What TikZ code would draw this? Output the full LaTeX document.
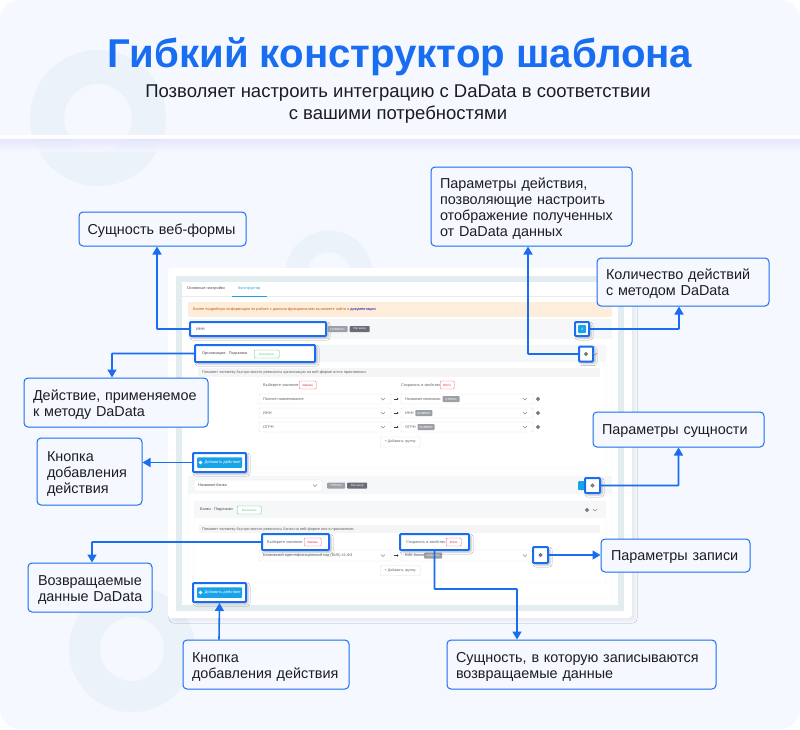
\documentclass[tikz,border=0pt]{standalone}
\usepackage{fontspec}
\setmainfont{Liberation Sans}
\usetikzlibrary{arrows.meta,shadows.blur,calc,positioning}
\definecolor{bgc}{HTML}{F5F8FE}
\definecolor{ringc}{HTML}{EBF2FA}
\definecolor{blu}{HTML}{186DF0}
\definecolor{frm}{HTML}{E3ECEE}
\definecolor{rowc}{HTML}{F6F7F9}
\definecolor{ink}{HTML}{1B1D22}
\definecolor{txg}{HTML}{5C626B}
\definecolor{btn}{HTML}{18A3E8}
\definecolor{bdg}{HTML}{9C9FA6}
\definecolor{bdd}{HTML}{686C75}
\definecolor{redb}{HTML}{F0637A}
\definecolor{grn}{HTML}{4CCB7F}
\tikzset{
 x=1pt,y=-1pt,
 callout/.style={draw=blu,line width=1pt,fill=bgc,rounded corners=4pt,inner sep=0pt,align=left,font=\fontsize{14.4}{16}\selectfont,text=ink,anchor=center,execute at end node={\par\vspace{-4pt}}},
 hl/.style={draw=blu,line width=2pt,fill=white,rounded corners=1pt,inner sep=0pt,anchor=center,blur shadow={shadow blur steps=6,shadow xshift=2pt,shadow yshift=-2pt,shadow opacity=25}},
 conn/.style={draw=blu,line width=1.6pt,-{Triangle[length=8pt,width=9pt]},rounded corners=0.5pt},
 tiny/.style={font=\fontsize{3.85}{4.5}\selectfont,text=txg,inner sep=0pt,anchor=west},
 selbox/.style={draw=black!10,line width=.4pt,fill=white,rounded corners=1pt},
 rowbox/.style={fill=rowc},
 panel/.style={draw=black!6,line width=.4pt,fill=white,rounded corners=1pt},
 badge/.style={fill=bdg,rounded corners=.8pt,inner sep=0pt,minimum height=6pt,font=\fontsize{3}{4}\selectfont,text=white,anchor=west},
 outl/.style={draw=redb,line width=.4pt,fill=white,rounded corners=1pt,inner sep=0pt,minimum height=8pt,font=\fontsize{3}{4}\selectfont,text=redb,anchor=west},
 addbtn/.style={fill=btn,rounded corners=.8pt,inner sep=0pt,anchor=west,font=\fontsize{4}{4}\selectfont,text=white,minimum width=45pt,minimum height=10.5pt},
 addico/.style={circle,fill=white,inner sep=0pt,minimum size=3.6pt},
 groupbtn/.style={draw=black!12,line width=.4pt,fill=white,rounded corners=1pt,inner sep=0pt,anchor=west,font=\fontsize{3.6}{4}\selectfont,text=txg,minimum width=40pt,minimum height=10pt},
 gear/.style={circle,draw=bdd,line width=1.1pt,fill=white,inner sep=0pt,minimum size=2.6pt},
}
\newcommand{\chev}[2]{\draw[black!45,line width=.4pt] (#1-2,#2-1) -- (#1,#2+1) -- (#1+2,#2-1);}
\newcommand{\rarr}[2]{\draw[black!75,line width=.6pt,-{Triangle[length=1.5pt,width=2.4pt]}] (#1-2.5,#2) -- (#1+2.5,#2);}
\begin{document}
\begin{tikzpicture}
\useasboundingbox (0,0) rectangle (800,729);
\fill[white] (0,0) rectangle (800,729);
\fill[bgc,rounded corners=20pt] (0,0) rectangle (800,729);
% decorative rings
\fill[ringc,even odd rule] (98,118) circle[radius=68] (98,118) circle[radius=34];
\fill[ringc,even odd rule] (329,274) circle[radius=43.5] (329,274) circle[radius=22];
\fill[ringc,even odd rule] (132,649) circle[radius=63] (132,649) circle[radius=32];
% divider
\shade[top color=blue!12!white,bottom color=bgc,opacity=.7] (0,139) rectangle (800,151);
\fill[white] (0,135) rectangle (800,139);
% title
\node[font=\fontsize{40.2}{46}\bfseries\selectfont,text=blu,inner sep=0pt] (title) at (400,57) {Гибкий конструктор шаблона};
\node[font=\fontsize{18.5}{22}\selectfont,text=ink,align=center,inner sep=0pt] (sub) at (398,104.5) {Позволяет настроить интеграцию с DaData в соответствии\\с вашими потребностями};
% UI sheet
\fill[white,rounded corners=3pt,blur shadow={shadow blur steps=8,shadow xshift=3pt,shadow yshift=-3pt,shadow opacity=6}] (168,268) rectangle (632,618);
\fill[frm] (176,276) rectangle (624,611);
\fill[white] (182,282) rectangle (618,605);
\node[tiny,text=ink!80] (tab1) at (187,288.5) {Основные настройки};
\node[tiny,text=btn] (tab2) at (238,288.5) {Конструктор};
\draw[black!8,line width=.5pt] (182,296) -- (618,296);
\draw[btn,line width=.7pt] (232,296) -- (267,296);
\fill[orange!14] (188,302) rectangle (612,317);
\node[tiny,text=orange!75!black] (info) at (193,309) {Более подробную информацию по работе с данным функционалом вы можете найти в \textcolor{blue!60!black}{документации}};
% entity 1
\draw[panel] (188,319) rectangle (612,473);
\fill[rowbox] (188.3,319.3) rectangle (611.7,339);
\draw[panel] (192,345) rectangle (606,468);
\fill[rowbox] (192.3,345.3) rectangle (605.7,362);
\fill[black!4] (198,368) rectangle (600,377);
\node[tiny] (d1) at (202,372.5) {Поможет человеку быстро ввести реквизиты организации на веб-форме или в приложении.};
\node[tiny] (s1) at (263,385) {Выберите значение};
\node[outl,minimum width=17pt,font=\fontsize{3}{4}\bfseries\selectfont] (b1) at (299,385) {DaData};
\node[tiny] (s2) at (401,385) {Сохранить в свойство};
\node[outl,minimum width=14pt,font=\fontsize{3}{4}\bfseries\selectfont] (b2) at (440,385) {Bitrix};
\foreach \yy/\la/\lb/\lc in {399/Полное наименование/Название компании/STRING,413/ИНН/ИНН/NUMBER,427/ОГРН/ОГРН/NUMBER}{
 \draw[selbox] (259,\yy-5) rectangle (391,\yy+5);
 \node[tiny] at (263,\yy) {\la};
 \chev{383}{\yy}
 \rarr{396}{\yy}
 \draw[selbox] (401,\yy-5) rectangle (533,\yy+5);
 \node[tiny] (r\yy) at (405,\yy) {\lb};
 \node[badge,minimum width=17pt,anchor=west] at ([xshift=1.5pt]r\yy.east) {\lc};
 \chev{525}{\yy}
 \node[gear] at (538,\yy) {};
}
\node[groupbtn] (g1) at (380,442) {+ Добавить группу};
% entity 2
\draw[panel] (188,476) rectangle (612,598);
\fill[rowbox] (188.3,476.3) rectangle (611.7,494);
\draw[selbox] (194,480) rectangle (322,491);
\node[tiny,text=ink!80] (n2) at (198,485.5) {Название банка};
\chev{315}{485.5}
\node[badge,minimum width=18pt] (b3) at (327,485.5) {STRING};
\node[badge,minimum width=20pt,fill=bdd] (b4) at (347,485.5) {Hip ewup};
\fill[btn,rounded corners=1pt] (578,481) rectangle (586,490);
\draw[panel] (194,501) rectangle (606,583);
\fill[rowbox] (194.3,501.3) rectangle (605.7,518);
\node[tiny,text=ink!80] (bk) at (200,510) {Банки · Подсказки};
\node[outl,draw=grn,text=grn,minimum width=24pt] (fr2) at (237,510) {Бесплатно};
\node[gear] (gg2) at (587,510) {};
\chev{595}{510}
\fill[black!4] (199,525) rectangle (600,533);
\node[tiny] (d2) at (202,529) {Поможет человеку быстро ввести реквизиты банка на веб-форме или в приложении.};
\draw[selbox] (259,550) rectangle (391,561);
\node[tiny] (bic) at (263,555.5) {Банковский идентификационный код (БИК) 41-ФЗ};
\chev{383}{555.5}
\rarr{396}{555.5}
\draw[selbox] (401,550) rectangle (533,561);
\node[tiny] (bb) at (405,555.5) {БИК банка};
\node[badge,minimum width=18pt] at (424,555.5) {NUMBER};
\chev{525}{555.5}
\node[groupbtn] (g2) at (380,570.5) {+ Добавить группу};
\chev{593}{329}
% highlighted elements
\node[hl,minimum width=136pt,minimum height=14pt] (hInn) at (258,329) {};
\node[tiny,text=ink!80] (tInn) at (196,329) {ИНН};
\node[badge,minimum width=20pt] (b5) at (327.5,329) {NUMERIC};
\node[badge,minimum width=20pt,fill=bdd] (b6) at (349.5,329) {Hip ewup};
\node[hl,minimum width=120pt,minimum height=17pt] (hOrg) at (255,353.5) {};
\node[tiny,text=ink!80] (tOrg) at (202,354) {Организация · Подсказки};
\node[outl,draw=grn,text=grn,minimum width=25pt] (fr1) at (254,354) {Бесплатно};
\node[hl,minimum width=14pt,minimum height=14pt] (hNum) at (582,329) {};
\node[fill=btn,rounded corners=.8pt,minimum size=8pt,inner sep=0pt,font=\fontsize{3.5}{4}\selectfont,text=white] (num) at (582,329) {4};
\node[hl,minimum width=14pt,minimum height=15pt] (hGear) at (586,354) {};
\node[gear] (g3) at (586,354) {};
\chev{595}{354}
\node[hl,minimum width=53pt,minimum height=19pt] (hAdd1) at (219.5,462.5) {};
\node[addbtn] (a1) at (197,462.5) {\hspace{6pt}Добавить действие};
\node[addico] (i1) at (200.5,462.5) {};
\node[hl,minimum width=15pt,minimum height=15pt] (hGearE) at (592.5,485.5) {};
\node[gear] (g4) at (592.5,485.5) {};
\node[hl,minimum width=67pt,minimum height=16pt] (hVal) at (295.5,542) {};
\node[tiny] (tVal) at (267,542) {Выберите значение};
\node[outl,minimum width=17pt,font=\fontsize{3}{4}\bfseries\selectfont] (b7) at (304,542) {DaData};
\node[hl,minimum width=69pt,minimum height=16pt] (hSave) at (434.5,542) {};
\node[tiny] (tSave) at (406,542) {Сохранить в свойство};
\node[outl,minimum width=15pt,font=\fontsize{3}{4}\bfseries\selectfont] (b8) at (446,542) {Bitrix};
\node[hl,minimum width=15pt,minimum height=16pt] (hGearR) at (540.5,555) {};
\node[gear] (g5) at (540.5,555) {};
\node[hl,minimum width=53pt,minimum height=19pt] (hAdd2) at (219.5,592.5) {};
\node[addbtn] (a2) at (197,592.5) {\hspace{6pt}Добавить действие};
\node[addico] (i2) at (200.5,592.5) {};
% callouts
\node[callout,minimum width=167pt,minimum height=34pt,text width=150pt] (cEnt) at (162.5,229) {Сущность веб-формы};
\node[callout,minimum width=201pt,minimum height=79pt,text width=183pt] (cPar) at (531.5,206.5) {Параметры действия,\\позволяющие настроить\\отображение полученных\\от DaData данных};
\node[callout,minimum width=172pt,minimum height=48pt,text width=154pt] (cCnt) at (683,282) {Количество действий\\с методом DaData};
\node[callout,minimum width=184pt,minimum height=49pt,text width=166pt] (cAct) at (116,402.5) {Действие, применяемое\\к методу DaData};
\node[callout,minimum width=105pt,minimum height=67pt,text width=85pt] (cBtn) at (89.5,471.5) {Кнопка\\добавления\\действия};
\node[callout,minimum width=171pt,minimum height=35pt,text width=153pt] (cSet) at (678.5,429.5) {Параметры сущности};
\node[callout,minimum width=124pt,minimum height=49pt,text width=104pt] (cRet) at (90,587.5) {Возвращаемые\\\mbox{данные DaData}};
\node[callout,minimum width=149pt,minimum height=33pt,text width=129pt] (cRec) at (675.5,555.5) {Параметры записи};
\node[callout,minimum width=166pt,minimum height=49pt,text width=148pt] (cBtn2) at (266,664.5) {Кнопка\\добавления действия};
\node[callout,minimum width=269pt,minimum height=49pt,text width=251pt] (cSave) at (581.5,664.5) {Сущность, в которую записываются\\возвращаемые данные};
% connectors
\coordinate (jSave) at ($(hSave.south)+(0,38)$);
\coordinate (eSave) at ([xshift=-64.5pt]cSave.north);
\draw[conn] (hInn.west) -| ([xshift=-5.5pt]cEnt.south);
\draw[conn] (hOrg.west) -| ([xshift=-4pt]cAct.north);
\draw[conn] (hAdd1.west) -- (hAdd1.west -| cBtn.east);
\draw[conn] (hVal.west) -| ([xshift=2pt]cRet.north);
\draw[conn] ([xshift=-47pt]cBtn2.north) -- (hAdd2.south);
\draw[conn] (hSave.south) |- (jSave -| eSave) -- (eSave);
\draw[conn] (hGearR.east) -- (hGearR.east -| cRec.west);
\draw[conn] (hGearE.east) -| (cSet.south);
\draw[conn] (hNum.east) -| ([xshift=-4pt]cCnt.south);
\draw[conn] (hGear.west) -| ([xshift=-3.5pt]cPar.south);
\end{tikzpicture}
\end{document}
